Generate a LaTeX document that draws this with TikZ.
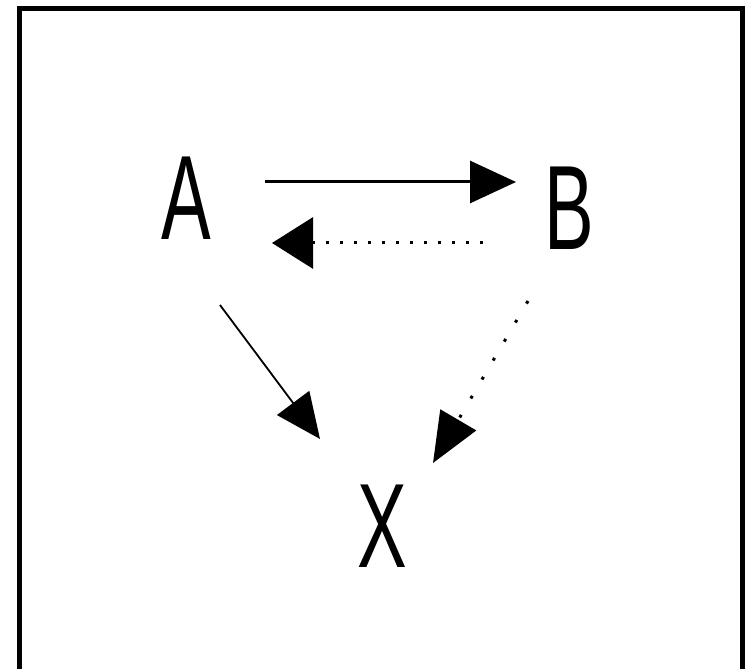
\documentclass[tikz,border=0pt]{standalone}
\usepackage{fontspec}
\setmainfont{Liberation Sans}
\usetikzlibrary{arrows.meta, calc}

\begin{document}
\begin{tikzpicture}[x=1pt, y=1pt,
    letter/.style={inner sep=0pt, font=\fontsize{120}{120}\selectfont},
    heavy/.style={line width=3pt, -{Triangle[length=46pt, width=42pt]}},
    dotback/.style={line width=3pt, dash pattern=on 3pt off 11pt, -{Triangle[length=41pt, width=51pt]}},
    thin/.style={line width=1.8pt, -{Triangle[length=45pt, width=40pt]}},
    dotdown/.style={line width=3pt, dash pattern=on 3pt off 19pt, -{Triangle[length=50pt, width=41pt]}}]
    \useasboundingbox (0,0) rectangle (751,669);

    % 1. Vẽ khung
    \draw[line width=5pt] (19.5,0) -- (19.5,660.5) -- (742.5,660.5) -- (742.5,0);

    % 2. Các chữ A, B, X
    \node[letter] (A) at (186,471) {\scalebox{0.62}[1]{A}};
    \node[letter] (B) at (569,461) {\scalebox{0.62}[1]{B}};
    \node[letter] (X) at (382,143) {\scalebox{0.62}[1]{X}};

    % 3. Các mũi tên
    \draw[heavy] ($(A)+(79,16)$) -- ($(B)+(-53,26)$);
    \draw[dotback] ($(B)+(-86,-35)$) -- ($(A)+(86,-45)$);
    \draw[thin] ($(A)+(34,-107)$) -- ($(X)+(-62,87)$);
    \draw[dotdown] ($(B)+(-41,-93)$) -- ($(X)+(51,63)$);
\end{tikzpicture}
\end{document}
